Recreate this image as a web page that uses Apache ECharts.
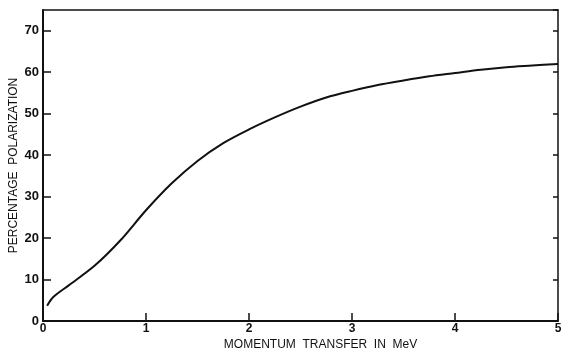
<!DOCTYPE html>
<html>
<head>
<meta charset="utf-8">
<script src="https://cdn.jsdelivr.net/npm/echarts@6/dist/echarts.min.js"></script>
<style>html,body{margin:0;padding:0;background:#fff}#c{width:564px;height:350px}</style>
</head>
<body>
<div id="c"></div>
<script>
var momentum = [0.04,0.1,0.25,0.5,0.75,1,1.25,1.5,1.75,2,2.25,2.5,2.75,3,3.25,3.5,3.75,4,4.25,4.5,4.75,5];
var polarization = [3.7,5.8,8.6,13.3,19.4,26.7,33.2,38.6,42.9,46.2,49.1,51.7,53.9,55.5,56.9,58.0,59.0,59.8,60.6,61.2,61.6,62.0];
var xTicks = [0,1,2,3,4,5];
var yTicks = [0,10,20,30,40,50,60,70];
var xName = 'MOMENTUM  TRANSFER  IN  MeV';
var yName = 'PERCENTAGE  POLARIZATION';

var ink = '#111';
var font = 'Liberation Sans';
var chart = echarts.init(document.getElementById('c'), null, {renderer:'canvas'});
chart.setOption({
  animation:false,
  backgroundColor:'#fff',
  grid:{left:43,right:6,top:10,bottom:29,outerBoundsMode:'none',containLabel:false},
  xAxis:[{
    type:'value',min:0,max:5,interval:1,
    name:xName,nameLocation:'middle',nameGap:18,nameMoveOverlap:false,
    nameTextStyle:{color:ink,fontFamily:font,fontSize:12,padding:[0,0,0,40]},
    axisLine:{show:true,onZero:false,lineStyle:{color:ink,width:2}},
    axisTick:{show:true,inside:true,length:8,lineStyle:{color:ink,width:1.5}},
    axisLabel:{color:ink,fontFamily:font,fontSize:12,fontWeight:'bold',margin:2,
      formatter:function(v){return xTicks.indexOf(v)>=0?String(v):'';}},
    splitLine:{show:false}
  },{
    type:'value',min:0,max:5,position:'top',
    axisLine:{show:true,onZero:false,lineStyle:{color:ink,width:1.5}},
    axisTick:{show:false},axisLabel:{show:false},splitLine:{show:false}
  }],
  yAxis:[{
    type:'value',min:0,max:75,interval:10,
    name:yName,nameLocation:'middle',nameGap:23,nameMoveOverlap:false,
    nameTextStyle:{color:ink,fontFamily:font,fontSize:12},
    axisLine:{show:true,onZero:false,lineStyle:{color:ink,width:2}},
    axisTick:{show:true,inside:true,length:8,lineStyle:{color:ink,width:1.5}},
    axisLabel:{color:ink,fontFamily:font,fontSize:13,fontWeight:'bold',margin:4,showMaxLabel:false,
      formatter:function(v){return yTicks.indexOf(v)>=0?String(v):'';}},
    splitLine:{show:false}
  },{
    type:'value',min:0,max:75,interval:10,position:'right',
    axisLine:{show:true,onZero:false,lineStyle:{color:ink,width:1.5}},
    axisTick:{show:true,inside:true,length:5,lineStyle:{color:ink,width:1.5}},
    axisLabel:{show:false},splitLine:{show:false}
  }],
  series:[{
    type:'line',
    data:momentum.map(function(x,i){return [x,polarization[i]];}),
    smooth:0.3,showSymbol:false,
    lineStyle:{color:ink,width:2}
  }]
});
</script>
</body>
</html>
